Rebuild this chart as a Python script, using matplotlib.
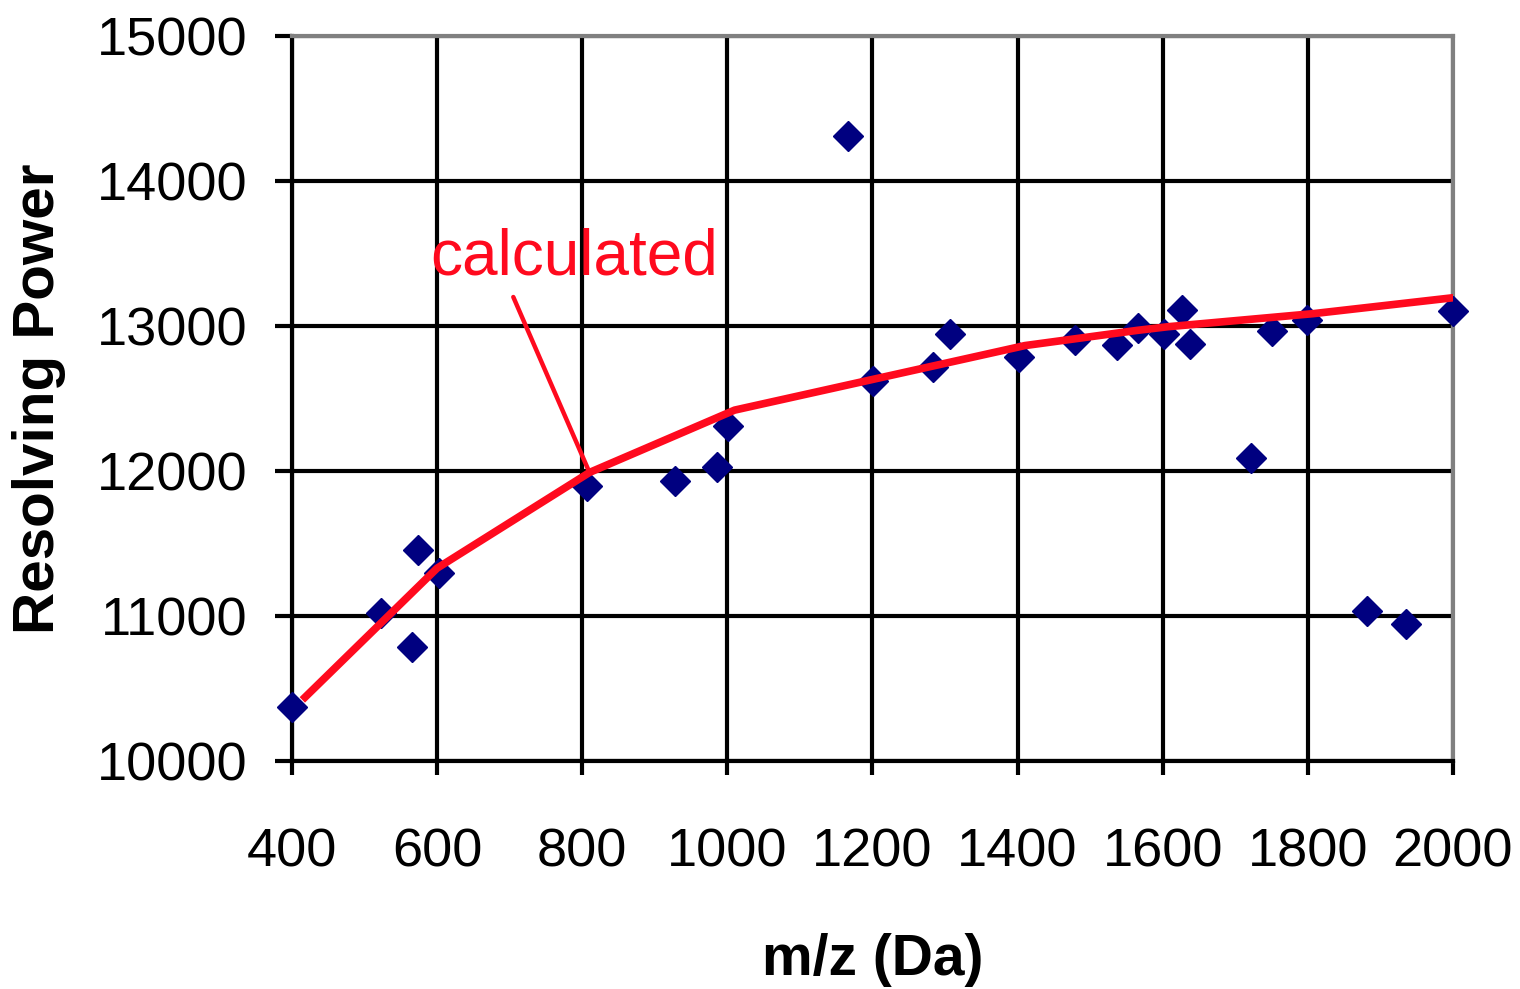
import matplotlib
matplotlib.use("Agg")
from matplotlib import pyplot as plt

# measured points
mz = [400, 523, 565, 574, 603, 806, 928, 986, 1001, 1166, 1201, 1283, 1307,
      1402, 1479, 1537, 1566, 1602, 1627, 1638, 1721, 1751, 1799, 1882, 1935, 2000]
rp = [10372, 11021, 10786, 11455, 11297, 11897, 11931, 12028, 12310, 14310,
      12621, 12717, 12945, 12786, 12903, 12869, 12986, 12945, 13110, 12876,
      12090, 12966, 13041, 11034, 10945, 13103]

# calculated curve
calc_x = [418, 600, 810, 1010, 1410, 1565, 1607, 1807, 2000]
calc_y = [10440, 11330, 11990, 12420, 12865, 12970, 12995, 13085, 13195]

xticks = [400, 600, 800, 1000, 1200, 1400, 1600, 1800, 2000]
yticks = [10000, 11000, 12000, 13000, 14000, 15000]

plt.rcParams["font.family"] = ["Liberation Sans", "DejaVu Sans"]

fig = plt.figure(figsize=(15.2, 9.89), dpi=100)
ax = fig.add_axes([0.1921, 0.2305, 0.7638, 0.7331])

ax.plot(mz, rp, "D", color="#000080", ms=15, mec="#000080", zorder=3, clip_on=False)
ax.plot(calc_x, calc_y, "-", color="#ff0a1e", lw=5.5, zorder=4)

ax.annotate("", xy=(810, 11990), xytext=(705, 13200),
            arrowprops=dict(arrowstyle="-", color="#ff0a1e", lw=3.2,
                            shrinkA=0, shrinkB=0))
ax.text(590, 13352, "calculated", color="#ff0a1e", fontsize=46, va="baseline", ha="left")

ax.set_xlim(400, 2000)
ax.set_ylim(10000, 15000)
ax.set_xticks(xticks)
ax.set_yticks(yticks)
ax.grid(True, color="black", lw=3)

for s in ["left", "bottom"]:
    ax.spines[s].set_color("black")
    ax.spines[s].set_linewidth(3)
for s in ["top", "right"]:
    ax.spines[s].set_color("#808080")
    ax.spines[s].set_linewidth(3)

ax.tick_params(axis="y", direction="out", length=12, width=3, labelsize=39, pad=20)
ax.tick_params(axis="x", direction="out", length=10, width=3, labelsize=39, pad=38)

ax.set_xlabel("m/z (Da)", fontsize=41, fontweight="bold", labelpad=40)
ax.set_ylabel("Resolving Power", fontsize=42, fontweight="bold", labelpad=22)

fig.savefig("out.png", dpi=100)
